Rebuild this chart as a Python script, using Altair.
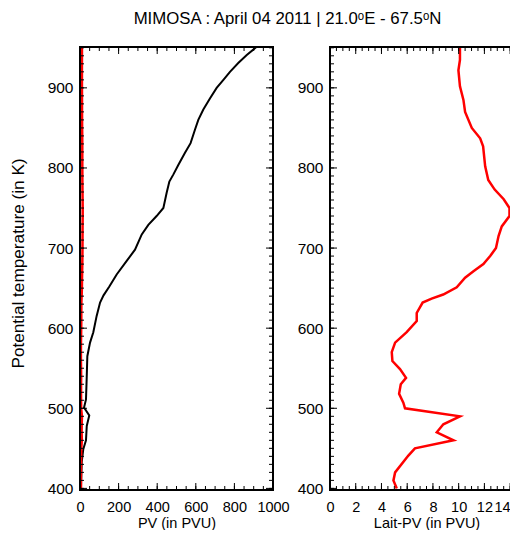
import altair as alt
import pandas as pd

# ---- data ----
pv_theta = [400, 433, 449, 460, 478, 491, 501, 511, 540, 565, 582, 595, 615, 632, 641, 652,
            667, 684, 698, 717, 729, 740, 750, 769, 783, 792, 804, 819, 831, 848, 860, 873,
            887, 900, 910, 920, 931, 941, 951]
pv_values = [5, 9, 17, 31, 35, 48, 21, 31, 35, 38, 52, 69, 86, 104, 122, 152,
             190, 242, 285, 320, 354, 397, 432, 449, 463, 484, 510, 544, 573, 596, 613, 639,
             674, 708, 743, 777, 820, 864, 914]

lait_theta = [400, 410, 420, 441, 450, 460, 470, 480, 490, 500, 507, 518, 530, 538, 549, 559,
              570, 582, 595, 609, 619, 632, 637, 642, 651, 663, 671, 680, 690, 700, 715, 727,
              740, 750, 761, 773, 785, 802, 827, 837, 850, 870, 885, 902, 922, 935, 951]
lait_values = [5.19, 4.93, 5.06, 6.09, 6.6, 9.6, 8.3, 8.81, 10.1, 5.83, 5.7, 5.37, 5.5, 5.91, 5.44, 4.85,
               4.8, 5.06, 5.96, 6.74, 6.74, 7.2, 7.9, 8.8, 9.85, 10.5, 11.15, 11.92, 12.45, 12.9, 13.1, 13.35,
               13.95, 13.95, 13.5, 12.8, 12.3, 12.06, 11.9, 11.67, 11.02, 10.5, 10.37, 10.1, 9.98, 10.1, 10.1]

theta_labels = [400, 500, 600, 700, 800, 900]
theta_minor = list(range(400, 951, 10))
pv_labels = [0, 200, 400, 600, 800, 1000]
pv_minor = list(range(0, 1001, 50))
lait_labels = [0, 2, 4, 6, 8, 10, 12, 14]
lait_minor = [i * 0.5 for i in range(0, 31)]

title_text = "MIMOSA : April 04 2011  |  21.0ᵒE - 67.5ᵒN"

# ---- styling ----
FONT = "Liberation Sans"
LFS = 14.5
W1, W2, H = 193, 193, 443
MAJ, MIN = 7, 4
theta_domain = [398, 951]

pv_df = pd.DataFrame({"theta": pv_theta, "pv": pv_values})
lait_df = pd.DataFrame({"theta": lait_theta, "lait": lait_values})

yscale = alt.Scale(domain=theta_domain, nice=False, zero=False)


def yaxis(title):
    return alt.Axis(values=theta_labels, ticks=False, domain=False, grid=False, format="d",
                    labelFont=FONT, labelFontSize=15.5, labelColor="black", labelPadding=7,
                    title=title, titleFont=FONT, titleFontSize=17.2, titleFontWeight="normal",
                    titleColor="black", titlePadding=19.5, titleY=216)


def xaxis(values, title, align):
    return alt.Axis(values=values, ticks=False, domain=False, grid=False, labelFlush=False,
                    format="d", labelAlign=align,
                    labelFont=FONT, labelFontSize=LFS, labelColor="black", labelPadding=10.5,
                    labelOverlap=False,
                    title=title, titleFont=FONT, titleFontSize=14.5, titleFontWeight="normal",
                    titleColor="black", titlePadding=2.5)


def tick_layers(xs, xax, yax, W, xvals_major, xvals_minor):
    layers = []
    ymaj = pd.DataFrame({"t": theta_labels})
    ymin = pd.DataFrame({"t": theta_minor})
    xmaj = pd.DataFrame({"t": xvals_major})
    xmin = pd.DataFrame({"t": xvals_minor})
    for df, L in ((ymaj, MAJ), (ymin, MIN)):
        base = alt.Chart(df).mark_rule(color="black", strokeWidth=1)
        yenc = alt.Y("t:Q", scale=yscale, axis=yax)
        layers.append(base.encode(y=yenc, x=alt.value(0), x2=alt.value(L)))
        layers.append(base.encode(y=yenc, x=alt.value(W), x2=alt.value(W - L)))
    for df, L in ((xmaj, MAJ), (xmin, MIN)):
        base = alt.Chart(df).mark_rule(color="black", strokeWidth=1)
        xenc = alt.X("t:Q", scale=xs, axis=xax)
        layers.append(base.encode(x=xenc, y=alt.value(0), y2=alt.value(L)))
        layers.append(base.encode(x=xenc, y=alt.value(H), y2=alt.value(H - L)))
    return layers


def frame_layers(W):
    base = alt.Chart(pd.DataFrame({"d": [0]})).mark_rule(color="black", strokeWidth=2, strokeCap="square")
    return [
        base.encode(x=alt.value(0), y=alt.value(0), y2=alt.value(H)),
        base.encode(x=alt.value(0), x2=alt.value(W), y=alt.value(0)),
        base.encode(x=alt.value(0), x2=alt.value(W), y=alt.value(H)),
        base.encode(x=alt.value(W), y=alt.value(0), y2=alt.value(H)),
    ]


# left panel
xs1 = alt.Scale(domain=[0, 1000], nice=False, zero=False)
xax1 = xaxis(pv_labels, "PV (in PVU)", "center")
yax1 = yaxis("Potential temperature (in K)")
pv_line = alt.Chart(pv_df).mark_line(color="black", strokeWidth=2, clip=True).encode(
    x=alt.X("pv:Q", scale=xs1, axis=xax1),
    y=alt.Y("theta:Q", scale=yscale, axis=yax1),
    order=alt.Order("theta:Q"),
)
lait_left = alt.Chart(lait_df).mark_line(color="#ff0000", strokeWidth=2.5, clip=True).encode(
    x=alt.X("lait:Q", scale=xs1, axis=xax1),
    y=alt.Y("theta:Q", scale=yscale, axis=yax1),
    order=alt.Order("theta:Q"),
)
left = alt.layer(pv_line, lait_left, *tick_layers(xs1, xax1, yax1, W1, pv_labels, pv_minor),
                 *frame_layers(W1)).properties(width=W1, height=H)

# right panel
xs2 = alt.Scale(domain=[0, 15], nice=False, zero=False)
align2 = {"condition": {"test": "datum.value >= 14", "value": "right"}, "value": "center"}
xax2 = xaxis(lait_labels, "Lait-PV (in PVU)", align2)
yax2 = yaxis(None)
lait_right = alt.Chart(lait_df).mark_line(color="#ff0000", strokeWidth=2.5, clip=True).encode(
    x=alt.X("lait:Q", scale=xs2, axis=xax2),
    y=alt.Y("theta:Q", scale=yscale, axis=yax2),
    order=alt.Order("theta:Q"),
)
right = alt.layer(lait_right, *tick_layers(xs2, xax2, yax2, W2, lait_labels, lait_minor),
                  *frame_layers(W2)).properties(width=W2, height=H)

chart = alt.hconcat(left, right, spacing=57, bounds="flush").properties(
    title=alt.TitleParams(title_text, anchor="start", dx=124, fontSize=16.8, font=FONT,
                          fontWeight="normal", color="black", offset=17.7),
    padding={"left": 1, "top": 3, "right": -15, "bottom": 0},
).configure_view(stroke=None).configure_concat(spacing=57)

chart.save("out.html", embed_options={"renderer": "svg", "actions": False})
